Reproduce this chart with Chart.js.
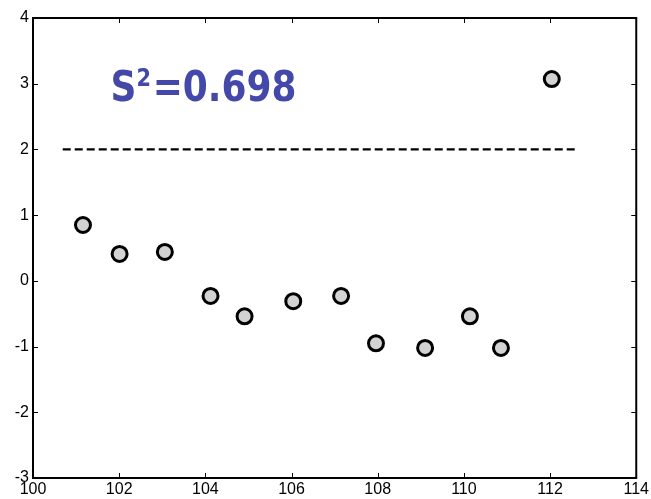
<!DOCTYPE html>
<html>
<head>
<meta charset="utf-8">
<script src="https://cdn.jsdelivr.net/npm/chart.js@4"></script>
<style>
  html, body { margin: 0; padding: 0; background: #fff; }
  #wrap { width: 651px; height: 499px; }
</style>
</head>
<body>
<div id="wrap"><canvas id="chart"></canvas></div>
<script>
// Data
const xValues = [101.16, 102.01, 103.06, 104.12, 104.91, 106.04, 107.15, 107.96, 109.10, 110.14, 110.86, 112.04];
const yValues = [0.85, 0.41, 0.44, -0.23, -0.54, -0.31, -0.23, -0.95, -1.02, -0.54, -1.02, 3.07];
const limitX = [100.69, 112.59];
const limitY = [2, 2];
const xTicks = [100, 102, 104, 106, 108, 110, 112, 114];
const yTicks = [-3, -2, -1, 0, 1, 2, 3, 4];
const labelText = { base: 'S', sup: '2', rest: '=0.698', x: 101.8, y: 2.74 };

const points = xValues.map((x, i) => ({ x: x, y: yValues[i] }));
const limitLine = limitX.map((x, i) => ({ x: x, y: limitY[i] }));

// box + inward ticks on all four sides, matlab style
const boxPlugin = {
    id: 'box',
    afterDraw(chart) {
        const { ctx, chartArea: a, scales } = chart;
        ctx.save();
        ctx.strokeStyle = '#000';
        ctx.lineWidth = 2;
        ctx.strokeRect(a.left, a.top, a.right - a.left, a.bottom - a.top);
        ctx.lineWidth = 1;
        const len = 5;
        ctx.beginPath();
        xTicks.forEach(v => {
            const px = Math.round(scales.x.getPixelForValue(v)) + 0.5;
            ctx.moveTo(px, a.bottom); ctx.lineTo(px, a.bottom - len);
            ctx.moveTo(px, a.top); ctx.lineTo(px, a.top + len);
        });
        yTicks.forEach(v => {
            const py = Math.round(scales.y.getPixelForValue(v)) + 0.5;
            ctx.moveTo(a.left, py); ctx.lineTo(a.left + len, py);
            ctx.moveTo(a.right, py); ctx.lineTo(a.right - len, py);
        });
        ctx.stroke();
        ctx.restore();
    }
};

// the S^2 annotation
const labelPlugin = {
    id: 'label',
    afterDatasetsDraw(chart) {
        const { ctx, scales } = chart;
        const px = scales.x.getPixelForValue(labelText.x);
        const py = scales.y.getPixelForValue(labelText.y);
        const big = 'bold 43px "DejaVu Sans"';
        const small = 'bold 25px "DejaVu Sans"';
        ctx.save();
        ctx.fillStyle = '#4448a8';
        ctx.textBaseline = 'alphabetic';
        ctx.font = big;
        const w1 = ctx.measureText(labelText.base).width;
        const w3 = ctx.measureText(labelText.rest).width;
        ctx.font = small;
        const w2 = ctx.measureText(labelText.sup).width;
        const total = w1 + w2 + 2 + w3;
        const sx = 186 / total;
        ctx.translate(px, py);
        ctx.scale(sx, 1);
        ctx.font = big;
        ctx.fillText(labelText.base, 0, 0);
        ctx.font = small;
        ctx.fillText(labelText.sup, w1, -15);
        ctx.font = big;
        ctx.fillText(labelText.rest, w1 + w2 + 2, 0);
        ctx.restore();
    }
};

const ctx = document.getElementById('chart').getContext('2d');
const chart = new Chart(ctx, {
    type: 'scatter',
    data: {
        datasets: [
            {
                label: 'S',
                data: points,
                pointRadius: 7.5,
                pointHoverRadius: 7.5,
                pointBorderWidth: 3,
                pointBackgroundColor: '#d3d3d3',
                pointBorderColor: '#000',
                showLine: false
            },
            {
                label: 'limit',
                data: limitLine,
                showLine: true,
                borderColor: '#000',
                borderWidth: 2.2,
                borderDash: [8, 4],
                pointRadius: 0,
                fill: false
            }
        ]
    },
    options: {
        responsive: true,
        maintainAspectRatio: false,
        animation: false,
        layout: { padding: { top: 18, right: 13, left: 0, bottom: 0 } },
        plugins: {
            legend: { display: false },
            tooltip: { enabled: false }
        },
        scales: {
            x: {
                type: 'linear',
                min: 100,
                max: 114,
                afterBuildTicks: s => { s.ticks = xTicks.map(v => ({ value: v })); },
                afterFit: s => { s.height = 21; },
                grid: { display: false, drawTicks: false },
                border: { display: false },
                ticks: {
                    color: '#000',
                    padding: 2,
                    maxRotation: 0,
                    autoSkip: false,
                    font: { family: '"Liberation Sans", Arial, sans-serif', size: 16 }
                }
            },
            y: {
                type: 'linear',
                min: -3,
                max: 4,
                afterBuildTicks: s => { s.ticks = yTicks.map(v => ({ value: v })); },
                afterFit: s => { s.width = 33; },
                grid: { display: false, drawTicks: false },
                border: { display: false },
                ticks: {
                    color: '#000',
                    padding: 4,
                    autoSkip: false,
                    font: { family: '"Liberation Sans", Arial, sans-serif', size: 16 }
                }
            }
        }
    },
    plugins: [boxPlugin, labelPlugin]
});
</script>
</body>
</html>
